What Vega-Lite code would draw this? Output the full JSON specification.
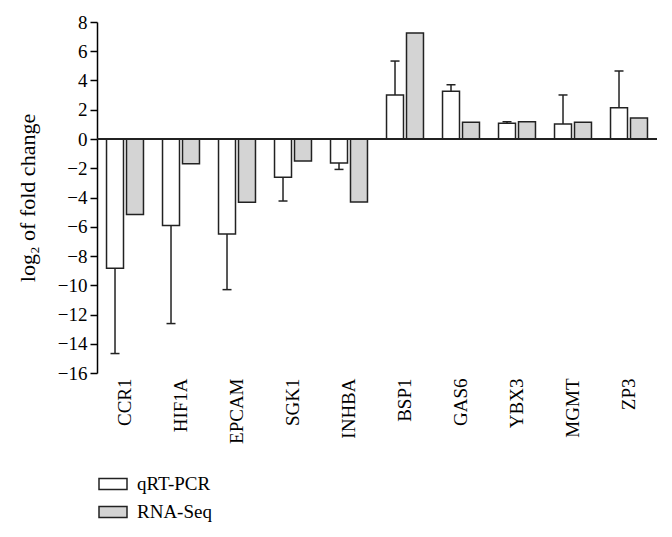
{
  "$schema": "https://vega.github.io/schema/vega-lite/v6.json",
  "autosize": "none",
  "width": 560,
  "height": 351,
  "padding": {"left": 97, "top": 22, "right": 15, "bottom": 164},
  "background": "white",
  "config": {
    "view": {"stroke": null},
    "font": "Liberation Serif",
    "axis": {"labelFont": "Liberation Serif", "titleFont": "Liberation Serif", "labelColor": "black", "titleColor": "black", "grid": false},
    "axisY": {
      "values": [-16, -14, -12, -10, -8, -6, -4, -2, 0, 2, 4, 6, 8],
      "labelOverlap": false,
      "titleFontSize": 22, "titleFontWeight": "normal", "titlePadding": 18,
      "labelFontSize": 19, "labelPadding": 3,
      "domainColor": "black", "domainWidth": 1.5, "tickColor": "black", "tickWidth": 1.5, "tickSize": 7
    },
    "legend": {"labelFont": "Liberation Serif", "labelColor": "black"}
  },
  "data": {
    "values": [
      {"gene": "CCR1", "method": "qRT-PCR", "value": -8.84, "err": -14.67},
      {"gene": "CCR1", "method": "RNA-Seq", "value": -5.17},
      {"gene": "HIF1A", "method": "qRT-PCR", "value": -5.92, "err": -12.62},
      {"gene": "HIF1A", "method": "RNA-Seq", "value": -1.69},
      {"gene": "EPCAM", "method": "qRT-PCR", "value": -6.49, "err": -10.3},
      {"gene": "EPCAM", "method": "RNA-Seq", "value": -4.33},
      {"gene": "SGK1", "method": "qRT-PCR", "value": -2.62, "err": -4.24},
      {"gene": "SGK1", "method": "RNA-Seq", "value": -1.5},
      {"gene": "INHBA", "method": "qRT-PCR", "value": -1.64, "err": -2.08},
      {"gene": "INHBA", "method": "RNA-Seq", "value": -4.3},
      {"gene": "BSP1", "method": "qRT-PCR", "value": 3.01, "err": 5.33},
      {"gene": "BSP1", "method": "RNA-Seq", "value": 7.24},
      {"gene": "GAS6", "method": "qRT-PCR", "value": 3.26, "err": 3.71},
      {"gene": "GAS6", "method": "RNA-Seq", "value": 1.14},
      {"gene": "YBX3", "method": "qRT-PCR", "value": 1.07, "err": 1.18},
      {"gene": "YBX3", "method": "RNA-Seq", "value": 1.18},
      {"gene": "MGMT", "method": "qRT-PCR", "value": 1.03, "err": 3.01},
      {"gene": "MGMT", "method": "RNA-Seq", "value": 1.14},
      {"gene": "ZP3", "method": "qRT-PCR", "value": 2.14, "err": 4.65},
      {"gene": "ZP3", "method": "RNA-Seq", "value": 1.44}
    ]
  },
  "encoding": {
    "x": {
      "field": "gene", "type": "nominal", "sort": null,
      "scale": {"paddingInner": 0.34, "paddingOuter": 0.17},
      "axis": {"title": null, "domain": false, "ticks": false, "labelAngle": -90, "labelFontSize": 19, "labelPadding": 5}
    },
    "xOffset": {"field": "method", "type": "nominal", "scale": {"domain": ["qRT-PCR", "RNA-Seq"], "paddingInner": 0.15, "paddingOuter": 0}}
  },
  "layer": [
    {
      "mark": {"type": "bar", "stroke": "#222222", "strokeWidth": 1.5, "opacity": 1},
      "encoding": {
        "y": {
          "field": "value", "type": "quantitative",
          "scale": {"domain": [-16, 8], "nice": false},
          "title": "log₂ of fold change"
        },
        "fill": {
          "field": "method", "type": "nominal",
          "scale": {"domain": ["qRT-PCR", "RNA-Seq"], "range": ["#ffffff", "#d4d4d4"]},
          "legend": {
            "title": null, "orient": "none", "legendX": 1, "legendY": 447, "direction": "vertical",
            "symbolType": "M-1,-0.4H1V0.4H-1Z", "symbolSize": 784,
            "symbolStrokeColor": "#222222", "symbolStrokeWidth": 1.5,
            "labelFontSize": 19, "labelOffset": 9, "rowPadding": 3
          }
        }
      }
    },
    {
      "transform": [{"filter": "datum.method === 'qRT-PCR'"}],
      "mark": {"type": "rule", "color": "#222222", "strokeWidth": 1.5},
      "encoding": {
        "y": {"field": "value", "type": "quantitative", "title": "log₂ of fold change"},
        "y2": {"field": "err"}
      }
    },
    {
      "transform": [{"filter": "datum.method === 'qRT-PCR'"}],
      "mark": {"type": "tick", "color": "#222222", "thickness": 1.5, "size": 9, "opacity": 1},
      "encoding": {
        "y": {"field": "err", "type": "quantitative", "title": "log₂ of fold change"}
      }
    },
    {
      "mark": {"type": "rule", "color": "#222222", "strokeWidth": 1.5},
      "encoding": {"y": {"datum": 0, "title": "log₂ of fold change"}, "x": null, "xOffset": null}
    }
  ]
}
